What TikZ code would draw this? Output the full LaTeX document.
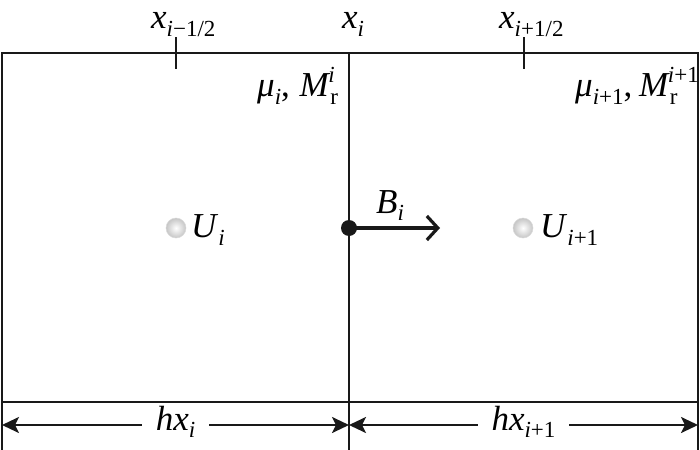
\documentclass[tikz,border=0pt]{standalone}
\usepackage{fontspec}
\setmainfont{Liberation Serif}
\usetikzlibrary{arrows.meta}
\newcommand\lsub[1]{\raisebox{-0.22em}{\fontsize{23}{23}\selectfont #1}}
\newcommand\lsup[1]{\raisebox{0.42em}{\fontsize{23}{23}\selectfont #1}}
\newcommand\iv[1]{\textit{#1}}
\begin{document}
\begin{tikzpicture}[x=1pt,y=-1pt,
  frame/.style={line width=2.6pt, line cap=rect, draw=black!90},
  dimarrow/.style={line width=2.6pt, draw=black!90, {Stealth[length=17pt,width=16pt,inset=4pt]}-{Stealth[length=17pt,width=16pt,inset=4pt]}},
  lbl/.style={font=\fontsize{35}{35}\selectfont, inner sep=0pt},
  gap/.style={lbl, fill=white, inner xsep=14pt, inner ysep=2pt},
  cellball/.style={circle, minimum size=20pt, inner sep=0pt, shading=radial, inner color=white, outer color=gray!45, draw=gray!30, line width=0.5pt}]
\useasboundingbox (0,0) rectangle (700,449);
% frame coordinates
\coordinate (tl) at (2,53);
\coordinate (tm) at (349,53);
\coordinate (tr) at (698,53);
\coordinate (bl) at (2,449);
\coordinate (bm) at (349,449);
\coordinate (br) at (698,449);
\coordinate (hl) at (2,402);
\coordinate (hr) at (698,402);
\draw[frame] (tl) -- (tr);
\draw[frame] (tl) -- (bl);
\draw[frame] (tm) -- (bm);
\draw[frame] (tr) -- (br);
\draw[frame] (hl) -- (hr);
% ticks
\coordinate (t1a) at (176,38); \coordinate (t1b) at (176,68);
\coordinate (t2a) at (524,38); \coordinate (t2b) at (524,68);
\draw[frame] (t1a) -- (t1b);
\draw[frame] (t2a) -- (t2b);
% top labels
\node[lbl, anchor=base west] (xl) at (151,29) {\iv{x}\lsub{\iv{i}−1/2}};
\node[lbl, anchor=base west] (xm) at (342,29) {\iv{x}\lsub{\iv{i}}};
\node[lbl, anchor=base west] (xr) at (499,29) {\iv{x}\lsub{\iv{i}+1/2}};
% material labels
\node[lbl, anchor=base west] (ml) at (257,97) {\iv{μ}\lsub{\iv{i}},\hspace{1pt} \iv{M}\rlap{\hspace{-2pt}\lsup{\iv{i}}}\lsub{r}};
\node[lbl, anchor=base west] (mr) at (575,97) {\iv{μ}\lsub{\iv{i}+1},\hspace{-2pt} \iv{M}\rlap{\hspace{-2pt}\lsup{\iv{i}+1}}\lsub{r}};
% cell centres
\node[cellball] (bu1) at (176,228) {};
\node[cellball] (bu2) at (523,228) {};
\node[lbl, anchor=west] (u1) at (191,230) {\iv{U}\lsub{\iv{i}}};
\node[lbl, anchor=west] (u2) at (540,230) {\iv{U}\lsub{\iv{i}+1}};
% flux
\node[circle, fill=black!90, minimum size=16pt, inner sep=0pt] (dot) at (349,228) {};
\coordinate (bend) at (440,228);
\draw[line width=3.2pt, draw=black!90, -{Straight Barb[length=11pt,width=24pt,line width=3.2pt]}] (dot.center) -- (bend);
\node[lbl, anchor=base west] (bl1) at (376,213) {\iv{B}\lsub{\iv{i}}};
% dimension arrows
\coordinate (d1) at (2,425);
\coordinate (d2) at (349,425);
\coordinate (d3) at (698,425);
\draw[dimarrow] (d1) -- (d2) node[gap, midway, yshift=3pt] (h1) {\iv{hx}\lsub{\iv{i}}};
\draw[dimarrow] (d2) -- (d3) node[gap, midway, yshift=3pt] (h2) {\iv{hx}\lsub{\iv{i}+1}};
\end{tikzpicture}
\end{document}
